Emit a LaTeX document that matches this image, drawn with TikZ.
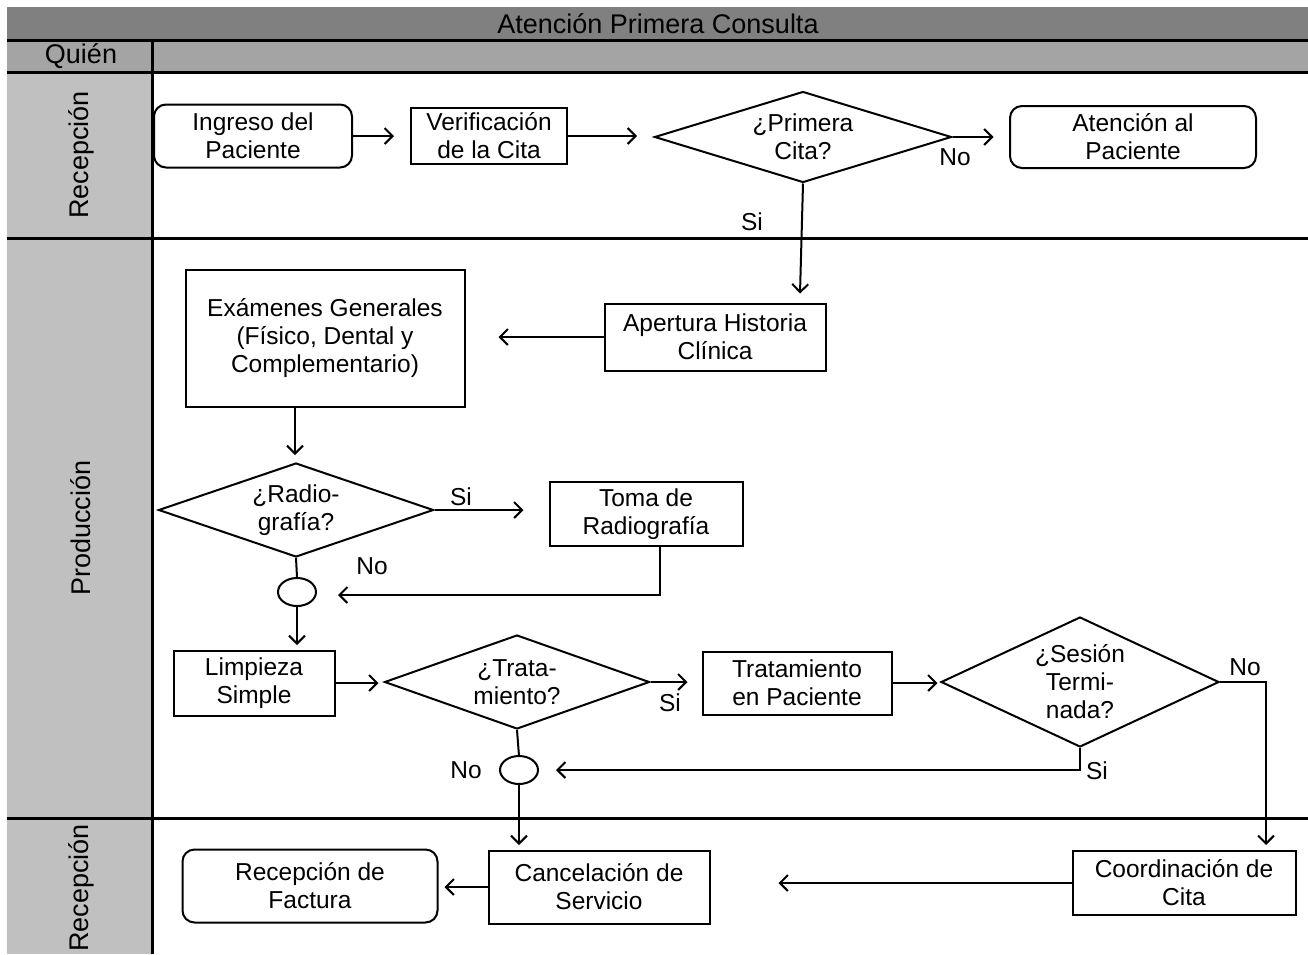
\documentclass[tikz,border=0pt]{standalone}
\usepackage{fontspec}
\setmainfont{Liberation Sans}
\usetikzlibrary{shapes.geometric,arrows.meta}
\begin{document}
\begin{tikzpicture}[x=1pt,y=-1pt,
  every node/.style={font=\fontsize{24.5}{28}\selectfont, align=center, inner sep=0pt},
  head/.style={font=\fontsize{27}{30}\selectfont},
  frame/.style={line width=3pt},
  rbox/.style={draw, line width=2pt, rounded corners=12pt},
  sbox/.style={draw, line width=2pt},
  dec/.style={draw, diamond, line width=2pt, aspect=2},
  junc/.style={draw, ellipse, line width=2pt, minimum width=38pt, minimum height=28pt},
  conn/.style={line width=2pt, -{Straight Barb[length=8pt,width=16pt,line width=2pt]}},
  line/.style={line width=2pt},
  lbl/.style={font=\fontsize{24.5}{28}\selectfont}
]
\useasboundingbox (0,0) rectangle (1308,954);
% header and lanes
\fill[fill={rgb,255:red,128;green,128;blue,128}] (7,7) rectangle (1308,40);
\fill[fill={rgb,255:red,164;green,164;blue,164}] (7,40) rectangle (1308,72);
\fill[fill={rgb,255:red,192;green,192;blue,192}] (7,72) rectangle (152,954);
\node[head] (title) at (658,24) {Atención Primera Consulta};
\node[head] (quien) at (81,56) {Quién};
\node[head,rotate=90] (lane1) at (81,155) {Recepción};
\node[head,rotate=90] (lane2) at (81,528) {Producción};
\node[head,rotate=90] (lane3) at (81,888) {Recepción};
\draw[frame] (7,40) -- (1308,40);
\draw[frame] (7,72) -- (1308,72);
\draw[frame] (7,238) -- (1308,238);
\draw[frame] (7,818) -- (1308,818);
\draw[frame] (152,40) -- (152,954);

% nodes
\node[rbox, minimum width=198pt, minimum height=63pt] (ingreso) at (253,136) {Ingreso del\\Paciente};
\node[sbox, minimum width=156pt, minimum height=56pt] (verif) at (489,136) {Verificación\\de la Cita};
\node[dec, minimum width=297pt, minimum height=91pt] (primera) at (803,137) {};
\node (primeratxt) at (803,137) {¿Primera\\Cita?};
\node[rbox, minimum width=246pt, minimum height=62pt] (atencion) at (1133,137) {Atención al\\Paciente};

\node[sbox, minimum width=221pt, minimum height=67pt] (apertura) at (715,337) {Apertura Historia\\Clínica};
\node[sbox, minimum width=279pt, minimum height=137pt] (examenes) at (325,338) {Exámenes Generales\\(Físico, Dental y\\Complementario)};
\node[dec, minimum width=275pt, minimum height=94pt] (radio) at (296,510) {};
\node (radiotxt) at (296,510) {¿Radio-\\grafía?};
\node[sbox, minimum width=193pt, minimum height=64pt] (toma) at (646,514) {Toma de\\Radiografía};
\node[junc] (j1) at (297,592) {};
\node[sbox, minimum width=161pt, minimum height=65pt] (limpieza) at (254,683) {Limpieza\\Simple};
\node[dec, minimum width=265pt, minimum height=94pt] (trat) at (517,682) {};
\node (trattxt) at (517,682) {¿Trata-\\miento?};
\node[sbox, minimum width=189pt, minimum height=63pt] (tratp) at (797,683) {Tratamiento\\en Paciente};
\node[dec, minimum width=278pt, minimum height=130pt] (sesion) at (1080,682) {};
\node (sesiontxt) at (1080,682) {¿Sesión\\Termi-\\nada?};
\node[junc] (j2) at (519,770) {};
\node[sbox, minimum width=223pt, minimum height=64pt] (coord) at (1184,883) {Coordinación de\\Cita};
\node[sbox, minimum width=221pt, minimum height=73pt] (cancel) at (599,887) {Cancelación de\\Servicio};
\node[rbox, minimum width=255pt, minimum height=73pt] (factura) at (310,886) {Recepción de\\Factura};

% connectors
\draw[conn] (ingreso.east) -- ++(41,0);
\draw[conn] (verif.east) -- ++(69,0);
\draw[conn] (primera.east) -- ++(41,0);
\node[lbl] (no1) at (955,157) {No};
\draw[conn] (primera.south) -- ++(-3,110);
\node[lbl] (si1) at (752,222) {Si};
\draw[conn] (apertura.west) -- ++(-105,0);
\coordinate (exb) at (295,407);
\draw[conn] (exb) -- (295,455);
\draw[conn] (radio.east) -- ++(89,0);
\node[lbl] (si2) at (461,497) {Si};
\coordinate (tomab) at (660,546);
\draw[conn] (tomab) -- (660,595) -- (338,595);
\draw[line] (radio.south) -- (j1.north);
\node[lbl] (no2) at (372,566) {No};
\draw[conn] (j1.south) -- (297,645);
\draw[conn] (limpieza.east) -- ++(43,0);
\draw[conn] (trat.east) -- ++(37,0);
\node[lbl] (si3) at (670,703) {Si};
\draw[conn] (tratp.east) -- ++(45,0);
\draw[conn] (sesion.east) -- (1266,682) -- (1266,845);
\node[lbl] (no3) at (1245,667) {No};
\draw[conn] (sesion.south) -- (1080,770) -- (556,770);
\node[lbl] (si4) at (1097,771) {Si};
\draw[line] (trat.south) -- (519,756);
\node[lbl] (no4) at (466,770) {No};
\draw[conn] (j2.south) -- (519,845);
\draw[conn] (coord.west) -- ++(-293,0);
\draw[conn] (cancel.west) -- ++(-43,0);
\end{tikzpicture}
\end{document}
